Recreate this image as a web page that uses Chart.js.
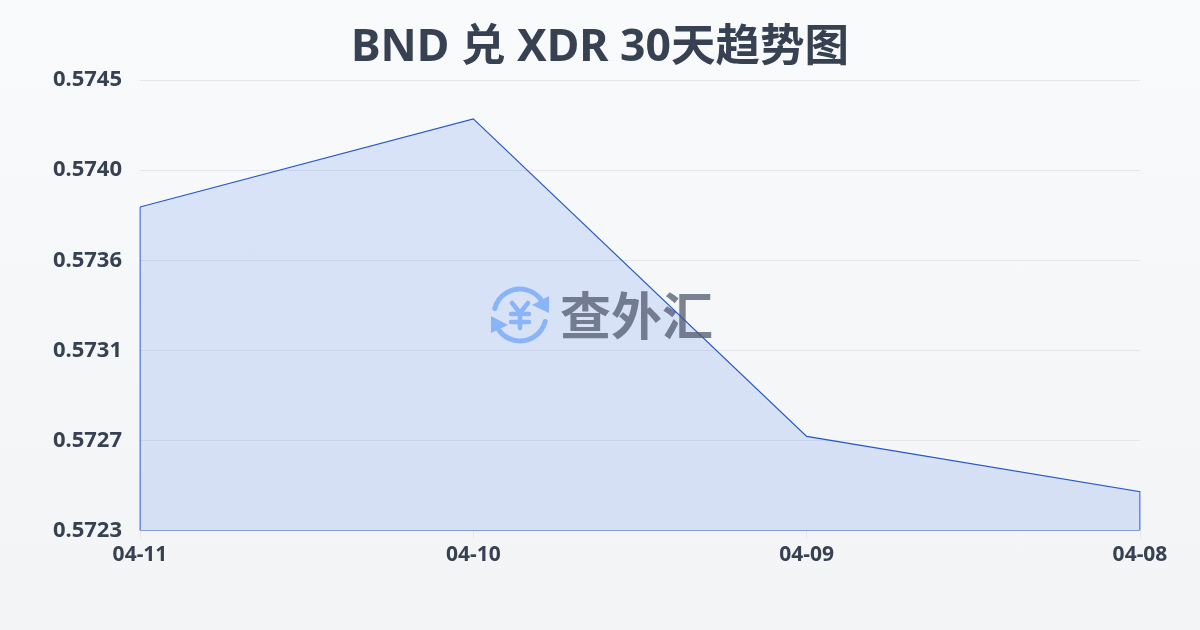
<!DOCTYPE html>
<html>
<head>
<meta charset="utf-8">
<script src="https://cdn.jsdelivr.net/npm/chart.js@4/dist/chart.umd.js"></script>
<style>
    html, body { margin: 0; padding: 0; }
    body { width: 1200px; height: 630px; overflow: hidden; background: linear-gradient(180deg, #f8fafc 0%, #f3f4f6 100%); }
    #chart { position: absolute; left: 0; top: 0; }
</style>
</head>
<body>
<canvas id="chart" width="1200" height="630"></canvas>
<script>
const titleText = 'BND 兑 XDR 30天趋势图';
const categories = ['04-11', '04-10', '04-09', '04-08'];
const rates = [0.57388, 0.57431, 0.57276, 0.57249];
const yTickLabels = ['0.5745', '0.5740', '0.5736', '0.5731', '0.5727', '0.5723'];
const yMin = 0.5723;
const yMax = 0.5745;
const yStep = 0.00044;

const labelFont = '"Noto Sans", "Noto Sans CJK SC", sans-serif';
const logoFont = '"Noto Sans CJK SC", sans-serif';

// series plus the way back along the axis, so the outline goes all round the area
const outline = categories.map((c, i) => ({ x: c, y: rates[i] }));
outline.push({ x: categories[categories.length - 1], y: yMin });
outline.push({ x: categories[0], y: yMin });
outline.push({ x: categories[0], y: rates[0] });

// title is centred on the page, not on the space left by the padding
const centerTitle = {
    id: 'centerTitle',
    afterLayout(chart) {
        chart.titleBlock.left = 0;
        chart.titleBlock.right = chart.width;
    }
};

// logo sits in the middle of the page, over the area
const watermark = {
    id: 'watermark',
    afterDatasetsDraw(chart) {
        const ctx = chart.ctx;
        const cx = 520, cy = 315;
        ctx.save();
        ctx.strokeStyle = '#8ab4f8';
        ctx.fillStyle = '#8ab4f8';
        ctx.lineWidth = 5;
        ctx.lineCap = 'round';
        ctx.beginPath();
        ctx.arc(cx, cy, 26, Math.PI * 1.08, Math.PI * 1.8);
        ctx.stroke();
        ctx.beginPath();
        ctx.arc(cx, cy, 26, Math.PI * 0.08, Math.PI * 0.8);
        ctx.stroke();
        ctx.beginPath();
        ctx.moveTo(549, 296); ctx.lineTo(549, 313); ctx.lineTo(532, 305); ctx.closePath();
        ctx.fill();
        ctx.beginPath();
        ctx.moveTo(491, 316); ctx.lineTo(508, 325); ctx.lineTo(491, 333); ctx.closePath();
        ctx.fill();
        ctx.lineWidth = 4.5;
        ctx.beginPath();
        ctx.moveTo(512, 303); ctx.lineTo(520, 313); ctx.lineTo(528, 303);
        ctx.moveTo(520, 313); ctx.lineTo(520, 328);
        ctx.moveTo(511, 314); ctx.lineTo(529, 314);
        ctx.moveTo(511, 322); ctx.lineTo(529, 322);
        ctx.stroke();
        ctx.fillStyle = 'rgba(75, 85, 105, 0.72)';
        ctx.font = 'bold 51px ' + logoFont;
        ctx.textAlign = 'left';
        ctx.textBaseline = 'middle';
        ctx.fillText('查外汇', 560, 316);
        ctx.restore();
    }
};

new Chart(document.getElementById('chart'), {
    type: 'line',
    data: {
        labels: categories,
        datasets: [{
            data: rates,
            borderWidth: 0,
            backgroundColor: 'rgba(37, 99, 235, 0.14)',
            fill: 'start',
            tension: 0,
            pointRadius: 0
        }, {
            data: outline,
            borderColor: '#2557c4',
            borderWidth: 1.2,
            fill: false,
            tension: 0,
            pointRadius: 0
        }]
    },
    options: {
        responsive: false,
        animation: false,
        layout: { padding: { left: 0, right: 60, top: 0, bottom: 58.2 } },
        plugins: {
            legend: { display: false },
            tooltip: { enabled: false },
            title: {
                display: true,
                text: titleText,
                color: '#374151',
                font: { family: labelFont, size: 44.5, weight: 'bold' },
                padding: { top: 22, bottom: 4.6 }
            }
        },
        scales: {
            x: {
                offset: false,
                grid: { drawOnChartArea: false, drawTicks: true, tickLength: 8, color: '#e5e7eb' },
                border: { display: false },
                ticks: {
                    color: '#374151',
                    font: { family: labelFont, size: 21, weight: 'bold' },
                    maxRotation: 0,
                    padding: 4
                }
            },
            y: {
                min: yMin,
                max: yMax,
                grid: { color: '#e5e7eb', drawTicks: false },
                border: { display: false },
                ticks: {
                    stepSize: yStep,
                    color: '#374151',
                    font: { family: labelFont, size: 22, weight: 'bold' },
                    padding: 18,
                    callback: (v, i, all) => yTickLabels[all.length - 1 - i]
                },
                afterFit(scale) { scale.width = 140; }
            }
        }
    },
    plugins: [centerTitle, watermark]
});
</script>
</body>
</html>
